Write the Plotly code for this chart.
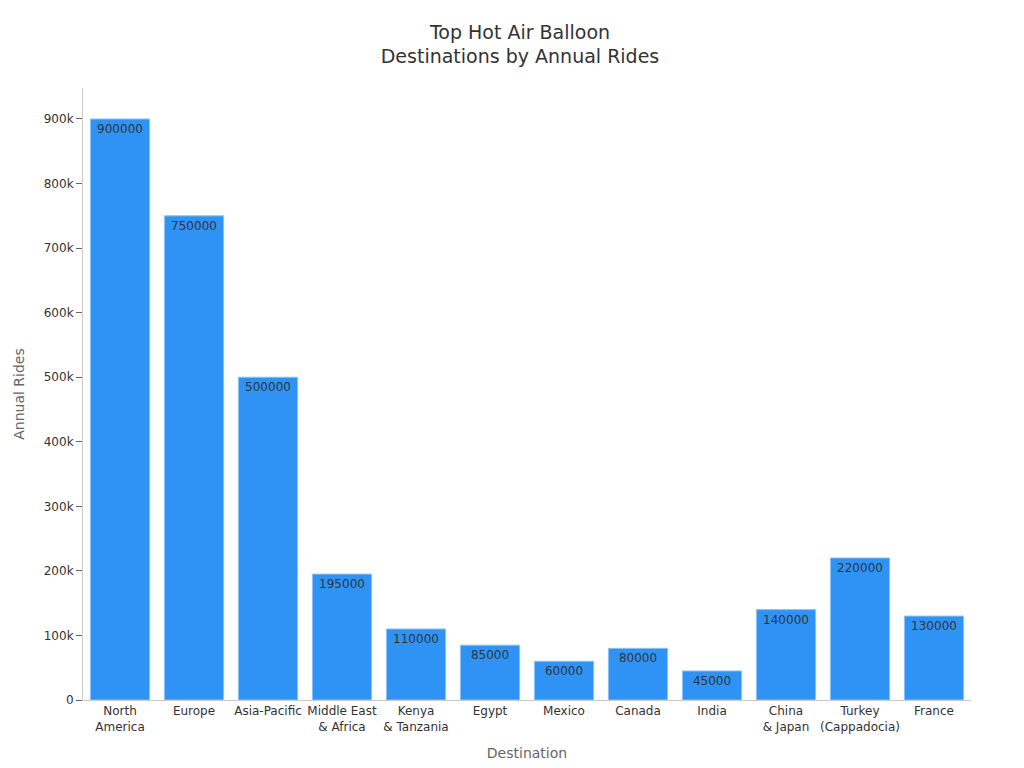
import plotly.graph_objects as go

categories = ["North<br>America", "Europe", "Asia-Pacific", "Middle East<br>& Africa", "Kenya<br>& Tanzania",
              "Egypt", "Mexico", "Canada", "India", "China<br>& Japan", "Turkey<br>(Cappadocia)", "France"]
rides = [900000, 750000, 500000, 195000, 110000, 85000, 60000, 80000, 45000, 140000, 220000, 130000]

fig = go.Figure(go.Bar(
    x=categories, y=rides, text=[str(v) for v in rides], textposition="inside",
    insidetextanchor="end", textfont=dict(color="#333333", size=12),
    marker=dict(color="#2E93F5", line=dict(color="#8CC4F8", width=1)),
))
fig.update_layout(
    width=1024, height=768, paper_bgcolor="white", plot_bgcolor="white",
    margin=dict(l=75, r=61, t=80, b=76),
    font=dict(family="DejaVu Sans", color="#333333", size=12),
    title=dict(text="Top Hot Air Balloon<br>Destinations by Annual Rides", x=0.5, xanchor="center",
               y=0.96, yanchor="top", font=dict(size=19, color="#333333")),
    bargap=0.2, showlegend=False,
)
fig.update_xaxes(title=dict(text="Destination", font=dict(size=14, color="#666666")),
                 showline=True, linecolor="#cccccc", ticks="", tickfont=dict(size=12))
fig.update_yaxes(title=dict(text="Annual Rides", font=dict(size=14, color="#666666")),
                 range=[0, 948000], tickvals=[0,100000,200000,300000,400000,500000,600000,700000,800000,900000],
                 ticktext=["0","100k","200k","300k","400k","500k","600k","700k","800k","900k"],
                 showline=True, linecolor="#cccccc", ticks="outside", tickcolor="#666666", ticklen=6,
                 showgrid=False, zeroline=False)
fig.write_html("out.html")
